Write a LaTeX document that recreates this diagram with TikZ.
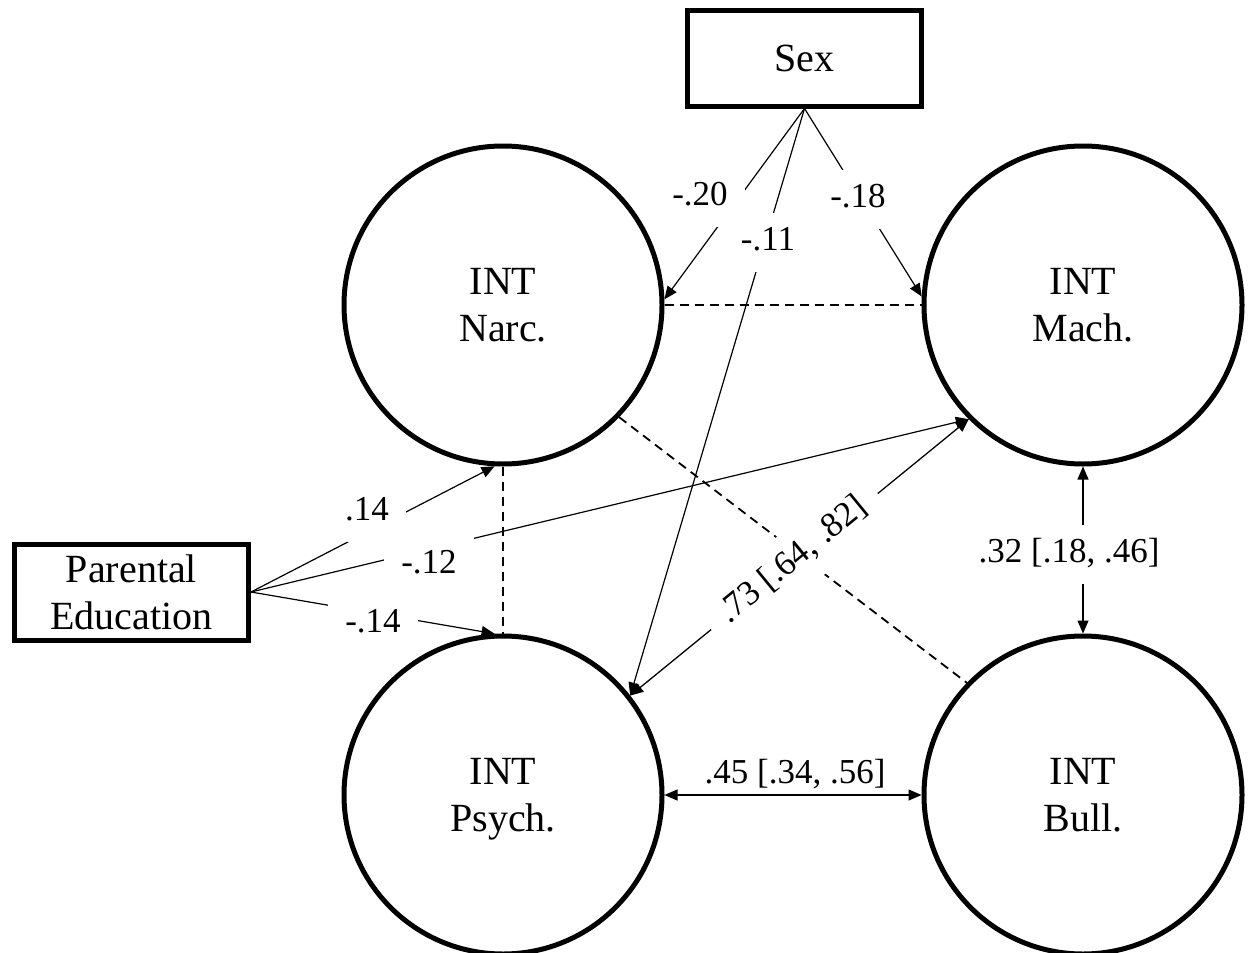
\documentclass[tikz,border=0pt]{standalone}
\usepackage{fontspec}
\setmainfont{Liberation Serif}
\usetikzlibrary{arrows.meta}
\begin{document}
\begin{tikzpicture}[x=1pt,y=-1pt,
  latent/.style={circle, draw, line width=5pt, minimum size=318pt, inner sep=0pt,
    align=center, font=\fontsize{40}{47}\selectfont, text depth=0pt},
  observed/.style={rectangle, draw, line width=5pt, minimum width=234pt,
    minimum height=96pt, inner sep=0pt, align=center, font=\fontsize{40}{47}\selectfont},
  regpath/.style={line width=1.2pt, -{Triangle[length=13pt,width=11pt]}},
  cov/.style={line width=1.3pt, {Triangle[length=13pt,width=11pt]}-{Triangle[length=13pt,width=11pt]}},
  resid/.style={line width=1.8pt, dash pattern=on 9pt off 6pt},
  coef/.style={fill=white, inner xsep=17pt, inner ysep=13pt,
    font=\fontsize{35}{42}\selectfont, text height=24.5pt, text depth=8.75pt},
  coefplain/.style={inner sep=0pt, font=\fontsize{35}{42}\selectfont}
]
\useasboundingbox (0,0) rectangle (1248,953);

% latent variables
\node[latent] (narc)  at (503,305)  {INT\\Narc.};
\node[latent] (mach)  at (1083,305) {INT\\Mach.};
\node[latent] (psych) at (503,795)  {INT\\Psych.};
\node[latent] (bull)  at (1083,795) {INT\\Bull.};

% observed covariates
\node[observed] (sex) at (804.5,58)  {Sex};
\node[observed] (pe)  at (131.5,592) {Parental\\Education};

% regression paths
\draw[regpath] (sex.south) -- (narc.2);
\draw[regpath] (sex.south) -- (psych.38);
\draw[regpath] (sex.south) -- (mach.177);
\draw[regpath] (pe.east) -- (narc.267);
\draw[regpath] (pe.east) -- (mach.225);
\draw[regpath] (pe.east) -- (psych.93);

% non-significant covariances
\draw[resid] (narc.east) -- (mach.west);
\draw[resid] (narc.south) -- (psych.north);
\draw[resid] (narc.-44) -- (bull.136);

% significant covariances
\draw[cov] (psych.38) -- (mach.225);
\draw[cov] (mach.south) -- (bull.north);
\draw[cov] (psych.east) -- (bull.west);

% coefficients
\node[coef, anchor=base] (c20) at (700,205) {-.20};
\node[coef, anchor=base] (c11) at (768,250) {-.11};
\node[coef, anchor=base] (c18) at (858,207) {-.18};
\node[coef, anchor=base] (c14) at (367,520) {.14};
\node[coef, anchor=base] (c12) at (429,573) {-.12};
\node[coef, anchor=base] (cm14) at (373,632) {-.14};
\node[coef, rotate=39.3] (c73) at (794,561) {.73 [.64, .82]};
\node[coef, anchor=base] (c32) at (1069,562) {.32 [.18, .46]};
\node[coefplain, anchor=base] (c45) at (795,783) {.45 [.34, .56]};
\end{tikzpicture}
\end{document}
